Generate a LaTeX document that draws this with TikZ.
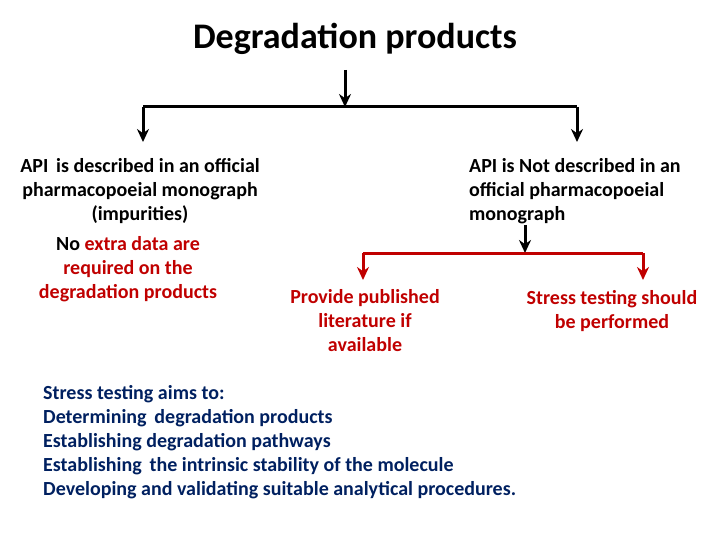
\documentclass[tikz,border=0pt]{standalone}
\usepackage{fontspec}
\setmainfont{Carlito}
\usetikzlibrary{arrows.meta}
\definecolor{dred}{RGB}{192,0,0}
\definecolor{navy}{RGB}{0,32,96}
\begin{document}
\begin{tikzpicture}[x=1pt,y=-1pt,
  txt/.style={font=\fontsize{20}{24}\selectfont\bfseries,align=center,inner sep=0pt},
  conn/.style={line width=3pt,-{Stealth[length=13pt,width=12pt]}},
  bar/.style={line width=3pt}]
\useasboundingbox (0,0) rectangle (720,540);
\node[font=\fontsize{36}{40}\selectfont\bfseries] (title) at (355,39) {Degradation products};
\coordinate (t0) at (345,70);
\coordinate (t1) at (345,107);
\coordinate (lb) at (143,107);
\coordinate (rb) at (577,107);
\node[txt,anchor=north] (left) at (140,158) {API\, is described in an official\\pharmacopoeial monograph\\(impurities)};
\node[txt,anchor=north,text=dred] (left2) at (128,236) {\textcolor{black}{No} extra data are\\required on the\\degradation products};
\node[txt,anchor=north west,align=left] (right) at (469,158) {API is Not described in an\\official pharmacopoeial\\monograph};
\draw[conn] (t0) -- (t1);
\draw[bar] (lb) -- (rb);
\draw[conn] (lb) -- (143,142);
\draw[conn] (rb) -- (577,142);
\coordinate (r0) at (525,225);
\coordinate (r1) at (525,253);
\coordinate (rl) at (363,253);
\coordinate (rr) at (643,253);
\draw[conn] (r0) -- (r1);
\draw[bar,dred] (rl) -- (rr);
\draw[conn,dred] (rl) -- (363,280);
\draw[conn,dred] (rr) -- (643,280);
\node[txt,anchor=north,text=dred] (lit) at (365,289) {Provide published\\literature if\\available};
\node[txt,anchor=north,text=dred] (stress) at (612,290) {Stress testing should\\be performed};
\node[txt,anchor=north west,align=left,text=navy] (aims) at (43,385) {Stress testing aims to:\\Determining\, degradation products\\Establishing degradation pathways\\Establishing\, the intrinsic stability of the molecule\\Developing and validating suitable analytical procedures.};
\end{tikzpicture}
\end{document}
